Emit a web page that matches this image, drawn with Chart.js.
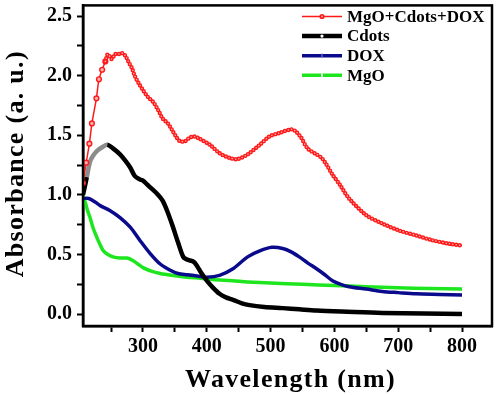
<!DOCTYPE html>
<html><head><meta charset="utf-8">
<script src="https://cdn.jsdelivr.net/npm/chart.js@4/dist/chart.umd.min.js"></script>
<style>html,body{margin:0;padding:0;background:#fff}</style>
</head><body>
<canvas id="c" width="498" height="395"></canvas>
<script>
// ---- data ----
const seriesNames = ["MgO+Cdots+DOX", "Cdots", "DOX", "MgO"];
const xTitle = "Wavelength (nm)";
const yTitle = "Absorbance (a. u.)";

const mixWl = [206,211,216,220,227,231,236,241,245,251,256,261,267,272,277,283,287,294,300,308,316,324,331,339,345,353,358,366,373,381,389,405,420,436,448,464,483,498,514,533,540,548,558,572,580,587,597,608,623,650,675,702,728,753,780,800];
const mixAbs = [1.10,1.27,1.43,1.60,1.81,1.97,2.05,2.12,2.18,2.14,2.18,2.18,2.19,2.17,2.12,2.06,2.00,1.93,1.88,1.82,1.78,1.71,1.64,1.60,1.55,1.48,1.45,1.45,1.48,1.49,1.47,1.42,1.35,1.31,1.30,1.34,1.42,1.49,1.52,1.55,1.53,1.48,1.39,1.34,1.31,1.26,1.17,1.09,0.97,0.83,0.76,0.70,0.66,0.62,0.59,0.575];

const cdWl = [206,212,217,222,228,236,244,253,264,272,280,287,295,300,306,314,322,331,339,347,355,363,368,373,379,384,392,400,410,420,430,441,455,467,490,519,545,572,620,675,740,800];
const cdAbs = [1.00,1.15,1.28,1.33,1.37,1.40,1.42,1.39,1.34,1.29,1.23,1.16,1.13,1.12,1.09,1.05,1.01,0.95,0.85,0.73,0.60,0.48,0.46,0.45,0.44,0.41,0.34,0.28,0.22,0.17,0.14,0.12,0.09,0.075,0.06,0.05,0.04,0.03,0.02,0.01,0.005,0.0];

const doxWl = [206,215,225,233,248,264,280,295,311,327,342,355,369,385,400,420,441,464,483,502,519,533,545,558,572,585,597,610,623,650,675,700,728,765,800];
const doxAbs = [0.97,0.97,0.94,0.91,0.87,0.81,0.73,0.62,0.51,0.42,0.37,0.34,0.33,0.32,0.31,0.325,0.38,0.48,0.53,0.56,0.55,0.52,0.48,0.43,0.38,0.33,0.28,0.25,0.23,0.21,0.19,0.18,0.17,0.165,0.16];

const mgoWl = [206,210,213,217,222,228,233,238,245,253,264,275,284,292,300,313,327,345,369,390,409,440,464,500,550,600,650,700,750,800];
const mgoAbs = [1.00,0.93,0.87,0.81,0.72,0.64,0.58,0.53,0.50,0.48,0.47,0.47,0.45,0.42,0.39,0.36,0.34,0.325,0.31,0.30,0.29,0.28,0.27,0.26,0.25,0.24,0.23,0.22,0.215,0.21];

const xMajorTicks = [300,400,500,600,700,800];
const yMajorTicks = [0.0,0.5,1.0,1.5,2.0,2.5];

const pts = (xs, ys) => xs.map((x, i) => ({x, y: ys[i]}));

const SERIF = '"Liberation Serif", "Times New Roman", serif';
const colors = {red:'#ff1a1a', black:'#000000', blue:'#0a0a8c', green:'#1ee61e'};
const RISE_END = 243; // sparse-marker region of the red curve

const boxLegend = {
  id: 'boxLegend',
  afterDraw(chart) {
    const ctx = chart.ctx, a = chart.chartArea;
    ctx.save();
    ctx.strokeStyle = '#000';
    ctx.lineWidth = 2.5;
    ctx.strokeRect(a.left, a.top, a.right - a.left, a.bottom - a.top);
    // axis titles
    ctx.fillStyle = '#000';
    ctx.font = 'bold 26px ' + SERIF;
    ctx.letterSpacing = '1.3px';
    ctx.textAlign = 'center';
    ctx.textBaseline = 'alphabetic';
    ctx.fillText(xTitle, (a.left + a.right) / 2 + 3, 387);
    ctx.save();
    ctx.translate(23, (a.top + a.bottom) / 2 - 2);
    ctx.rotate(-Math.PI / 2);
    ctx.fillText(yTitle, 0, 0);
    ctx.restore();
    ctx.letterSpacing = '0px';
    // legend
    const items = [
      {c: colors.red, w: 1.5, m: 'dot'},
      {c: colors.black, w: 4.5, m: 'ring'},
      {c: colors.blue, w: 3.5, m: 'star'},
      {c: colors.green, w: 3.5, m: 'gap'}
    ];
    const x0 = 302, x1 = 342, tx = 347;
    ctx.font = 'bold 17px ' + SERIF;
    ctx.textBaseline = 'middle';
    ctx.textAlign = 'left';
    items.forEach((it, i) => {
      const y = 16.5 + i * 19.6;
      ctx.strokeStyle = it.c;
      ctx.lineWidth = it.w;
      ctx.beginPath(); ctx.moveTo(x0, y); ctx.lineTo(x1, y); ctx.stroke();
      const mx = (x0 + x1) / 2;
      if (it.m === 'dot') {
        ctx.fillStyle = it.c; ctx.beginPath(); ctx.arc(mx, y, 2.6, 0, Math.PI*2); ctx.fill();
        ctx.fillStyle = '#ff9a9a'; ctx.beginPath(); ctx.arc(mx, y, 1, 0, Math.PI*2); ctx.fill();
      } else if (it.m === 'ring') {
        ctx.fillStyle = '#fff'; ctx.beginPath(); ctx.arc(mx, y, 1.6, 0, Math.PI*2); ctx.fill();
      } else if (it.m === 'star') {
        ctx.strokeStyle = '#8888cc'; ctx.lineWidth = 1;
        ctx.beginPath(); ctx.moveTo(mx, y-2.5); ctx.lineTo(mx, y+2.5); ctx.stroke();
      } else if (it.m === 'gap') {
        ctx.fillStyle = '#fff'; ctx.fillRect(mx - 0.8, y - 2, 1.6, 4);
      }
      ctx.fillStyle = '#000';
      ctx.fillText(seriesNames[i], tx, y + 1);
    });
    ctx.restore();
  }
};

const hideRise = c => (c.p1.parsed.x <= RISE_END ? 'rgba(0,0,0,0)' : undefined);

new Chart(document.getElementById('c'), {
  type: 'line',
  data: {
    datasets: [
      {label: seriesNames[0] + ' dots', data: pts(mixWl, mixAbs), borderColor: '#ffb0b0', borderWidth: 1.6, borderDash: [0, 3.4], borderCapStyle: 'round', pointRadius: 0, tension: 0.3, order: 0, segment: {borderColor: hideRise}},
      {label: seriesNames[0] + ' rings', data: pts(mixWl, mixAbs), borderColor: colors.red, borderWidth: 4.4, borderDash: [0, 3.4], borderCapStyle: 'round', pointRadius: 0, tension: 0.3, order: 1, segment: {borderColor: hideRise}},
      {label: seriesNames[0], data: pts(mixWl, mixAbs), borderColor: colors.red, borderWidth: 1.5, tension: 0.3, order: 2,
        pointRadius: c => (mixWl[c.dataIndex] <= RISE_END ? 2.4 : 0), pointBorderWidth: 1.4,
        pointBorderColor: colors.red, pointBackgroundColor: '#ffb0b0'},
      {label: seriesNames[1], data: pts(cdWl, cdAbs), borderColor: colors.black, borderWidth: 4.5, pointRadius: 0, tension: 0.3, order: 3,
        segment: {borderColor: c => (c.p1.parsed.x <= 244 && c.p0.parsed.x >= 212 ? '#8c8c8c' : undefined)}},
      {label: seriesNames[2], data: pts(doxWl, doxAbs), borderColor: colors.blue, borderWidth: 3.5, pointRadius: 0, tension: 0.3, order: 4},
      {label: seriesNames[3], data: pts(mgoWl, mgoAbs), borderColor: colors.green, borderWidth: 3.5, pointRadius: 0, tension: 0.3, order: 5}
    ]
  },
  options: {
    responsive: false,
    animation: false,
    devicePixelRatio: 1,
    layout: {padding: {top: 3, right: 6, left: 0, bottom: 0}},
    plugins: {legend: {display: false}, tooltip: {enabled: false}},
    scales: {
      x: {
        type: 'linear', min: 206, max: 847,
        afterBuildTicks: s => { const t = []; for (let v = 250; v <= 800; v += 50) t.push({value: v}); s.ticks = t; },
        afterFit: s => { s.height = 69; s.paddingLeft = 0; s.paddingRight = 0; },
        ticks: {
          autoSkip: false, maxRotation: 0, padding: 3, color: '#000',
          font: {family: SERIF, weight: 'bold', size: 20},
          callback: v => xMajorTicks.includes(v) ? String(v) : ''
        },
        grid: {drawOnChartArea: false, drawTicks: true, tickLength: 6, tickWidth: 2, tickColor: '#000'},
        border: {display: true, color: '#000', width: 2.5},
        title: {display: false}
      },
      y: {
        type: 'linear', min: -0.1, max: 2.59,
        afterBuildTicks: s => { const t = []; for (let v = 0; v <= 2.5001; v += 0.25) t.push({value: Math.round(v*100)/100}); s.ticks = t; },
        afterFit: s => { s.width = 83; s.paddingTop = 0; s.paddingBottom = 0; },
        ticks: {
          autoSkip: false, padding: 5, color: '#000',
          font: {family: SERIF, weight: 'bold', size: 20},
          callback: v => yMajorTicks.some(m => Math.abs(m - v) < 1e-6) ? v.toFixed(1) : ''
        },
        grid: {drawOnChartArea: false, drawTicks: true, tickLength: 6, tickWidth: 2, tickColor: '#000'},
        border: {display: true, color: '#000', width: 2.5},
        title: {display: false}
      }
    }
  },
  plugins: [boxLegend]
});
</script>
</body></html>
